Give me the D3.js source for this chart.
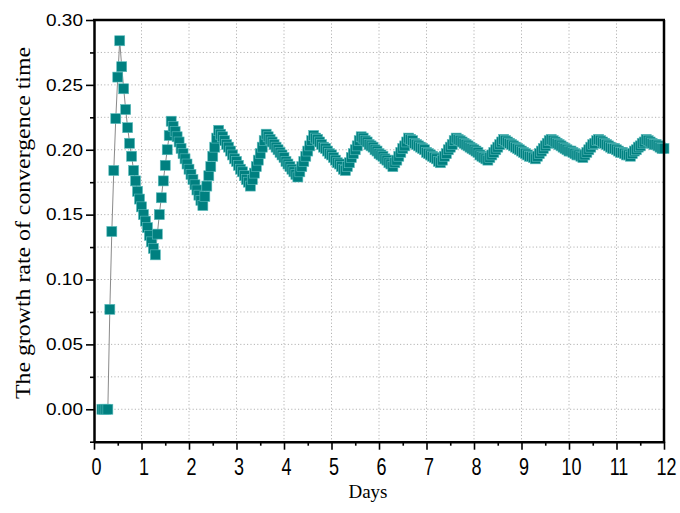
<!DOCTYPE html>
<html>
<head>
<meta charset="utf-8">
<script src="https://cdn.jsdelivr.net/npm/d3@7"></script>
<style>
  body { margin: 0; background: #fff; }
  svg { display: block; }
</style>
</head>
<body>
<div id="chart"></div>
<script>
// Datos: una muestra por hora, la primera a la hora 4
const startHour = 4;
const hoursPerDay = 24;

const rate = [
  // dia 0
  0.000, 0.000, 0.000, 0.000, 0.077, 0.137, 0.184, 0.224, 0.256, 0.284,
  0.264, 0.247, 0.231, 0.217, 0.205, 0.195, 0.184, 0.176,
  0.168, 0.162, 0.156, 0.150, 0.145, 0.140, 0.134, 0.129, 0.124, 0.119,
  // dia 1
  0.135, 0.150, 0.163, 0.176, 0.188, 0.200, 0.211, 0.222,
  0.218, 0.214, 0.210, 0.206, 0.201, 0.197, 0.193, 0.189,
  0.185, 0.181, 0.177, 0.173, 0.169, 0.165, 0.161, 0.157,
  // dia 2
  0.164, 0.172, 0.180, 0.187, 0.195, 0.202, 0.209, 0.215,
  0.212, 0.210, 0.207, 0.204, 0.202, 0.199, 0.196, 0.193,
  0.191, 0.188, 0.185, 0.183, 0.180, 0.177, 0.175, 0.172,
  // dia 3
  0.177, 0.182, 0.187, 0.192, 0.197, 0.202, 0.207, 0.212,
  0.210, 0.208, 0.206, 0.204, 0.202, 0.200, 0.198, 0.196,
  0.194, 0.191, 0.189, 0.187, 0.185, 0.183, 0.181, 0.179,
  // dia 4
  0.183, 0.187, 0.191, 0.195, 0.199, 0.203, 0.207, 0.211,
  0.209, 0.208, 0.206, 0.204, 0.202, 0.201, 0.199, 0.197,
  0.196, 0.194, 0.192, 0.190, 0.189, 0.187, 0.185, 0.184,
  // dia 5
  0.187, 0.190, 0.194, 0.197, 0.200, 0.203, 0.207, 0.210,
  0.209, 0.207, 0.206, 0.204, 0.203, 0.202, 0.200, 0.199,
  0.197, 0.196, 0.195, 0.193, 0.192, 0.190, 0.189, 0.187,
  // dia 6
  0.190, 0.192, 0.195, 0.198, 0.201, 0.203, 0.206, 0.209,
  0.208, 0.207, 0.205, 0.204, 0.203, 0.202, 0.201, 0.200,
  0.198, 0.197, 0.196, 0.195, 0.194, 0.193, 0.191, 0.190,
  // dia 7
  0.192, 0.195, 0.197, 0.200, 0.202, 0.204, 0.207, 0.209,
  0.208, 0.207, 0.206, 0.205, 0.204, 0.203, 0.202, 0.201,
  0.200, 0.199, 0.198, 0.196, 0.195, 0.194, 0.193, 0.192,
  // dia 8
  0.194, 0.196, 0.198, 0.200, 0.202, 0.204, 0.206, 0.208,
  0.207, 0.206, 0.205, 0.204, 0.203, 0.202, 0.201, 0.200,
  0.199, 0.198, 0.197, 0.196, 0.195, 0.195, 0.194, 0.193,
  // dia 9
  0.195, 0.197, 0.199, 0.201, 0.203, 0.205, 0.207, 0.208,
  0.207, 0.206, 0.205, 0.204, 0.203, 0.202, 0.201, 0.200,
  0.199, 0.199, 0.198, 0.197, 0.196, 0.196, 0.195, 0.194,
  // dia 10
  0.196, 0.198, 0.200, 0.202, 0.204, 0.205, 0.207, 0.208,
  0.207, 0.206, 0.205, 0.204, 0.203, 0.202, 0.201, 0.201,
  0.200, 0.199, 0.198, 0.198, 0.197, 0.196, 0.196, 0.195,
  // dia 11
  0.197, 0.199, 0.200, 0.202, 0.203, 0.205, 0.206, 0.208,
  0.207, 0.206, 0.205, 0.204, 0.204, 0.203, 0.202, 0.201, 0.201
];

const xTicks = [0, 1, 2, 3, 4, 5, 6, 7, 8, 9, 10, 11, 12];
const xMinorTicks = [0.5, 1.5, 2.5, 3.5, 4.5, 5.5, 6.5, 7.5, 8.5, 9.5, 10.5, 11.5];
const yTicks = [0.00, 0.05, 0.10, 0.15, 0.20, 0.25, 0.30];
const yMinorTicks = [-0.025, 0.025, 0.075, 0.125, 0.175, 0.225, 0.275];

const xLabel = "Days";
const yLabel = "The growth rate of convergence time";

// Dimensiones
const width = 680;
const height = 513;
const plotL = 94, plotR = 664, plotT = 20, plotB = 441.7;

const points = rate.map((v, i) => ({ day: (startHour + i) / hoursPerDay, v: v }));

const x = d3.scaleLinear().domain([0, 12]).range([plotL, plotR]);
const y = d3.scaleLinear().domain([-0.025, 0.30]).range([plotB, plotT]);

const svg = d3.select("#chart")
    .append("svg")
    .attr("width", width)
    .attr("height", height);

// Rejilla punteada
const grid = svg.append("g").attr("stroke", "#b4b4b4").attr("stroke-width", 1)
    .attr("stroke-dasharray", "1.2,2.2");

grid.selectAll("line.h")
    .data(yTicks.concat(yMinorTicks).filter(d => d > -0.02 && d < 0.299))
    .enter().append("line")
    .attr("class", "h")
    .attr("x1", plotL).attr("x2", plotR)
    .attr("y1", d => y(d)).attr("y2", d => y(d));

grid.selectAll("line.v")
    .data(xTicks.filter(d => d > 0 && d < 12))
    .enter().append("line")
    .attr("class", "v")
    .attr("y1", plotT).attr("y2", plotB)
    .attr("x1", d => x(d)).attr("x2", d => x(d));

// Linea gris que une los puntos
const line = d3.line().x(d => x(d.day)).y(d => y(d.v));
svg.append("path")
    .datum(points)
    .attr("d", line)
    .attr("fill", "none")
    .attr("stroke", "#8a8a8a")
    .attr("stroke-width", 1);

// Cuadrados
const sq = 10;
svg.append("g").selectAll("rect")
    .data(points)
    .enter().append("rect")
    .attr("x", d => x(d.day) - sq / 2)
    .attr("y", d => y(d.v) - sq / 2)
    .attr("width", sq)
    .attr("height", sq)
    .attr("fill", "#008080")
    .attr("stroke", "#5cbcbc")
    .attr("stroke-width", 0.6);

// Ejes
const axisW = 2.5;

const yAxis = svg.append("g")
    .attr("transform", `translate(${plotL},0)`)
    .call(d3.axisLeft(y).tickValues(yTicks).tickFormat(d3.format(".2f")).tickSize(8).tickSizeOuter(0));
yAxis.selectAll("line").attr("stroke-width", 1.6);
yAxis.select(".domain").attr("stroke-width", axisW);
yAxis.selectAll("text")
    .attr("x", -11)
    .attr("font-family", "Liberation Sans, Arial, sans-serif")
    .attr("font-size", 16.5)
    .attr("textLength", 37)
    .attr("lengthAdjust", "spacingAndGlyphs")
    .attr("fill", "#000");

svg.append("g")
    .attr("transform", `translate(${plotL},0)`)
    .call(d3.axisLeft(y).tickValues(yMinorTicks).tickFormat("").tickSize(4).tickSizeOuter(0))
    .call(g => g.select(".domain").remove())
    .selectAll("line").attr("stroke-width", 1.6);

const xAxis = svg.append("g")
    .attr("transform", `translate(0,${plotB})`)
    .call(d3.axisBottom(x).tickValues(xTicks).tickFormat(d3.format("d")).tickSize(8).tickSizeOuter(0));
xAxis.selectAll("line").attr("stroke-width", 1.6);
xAxis.select(".domain").attr("stroke-width", axisW);
xAxis.selectAll("text")
    .attr("y", 0)
    .attr("dy", 0)
    .attr("transform", "translate(2,33) scale(1,1.35)")
    .attr("font-family", "Liberation Sans, Arial, sans-serif")
    .attr("font-size", 18)
    .attr("fill", "#000");

svg.append("g")
    .attr("transform", `translate(0,${plotB})`)
    .call(d3.axisBottom(x).tickValues(xMinorTicks).tickFormat("").tickSize(4).tickSizeOuter(0))
    .call(g => g.select(".domain").remove())
    .selectAll("line").attr("stroke-width", 1.6);

// Marco superior y derecho
svg.append("line")
    .attr("x1", plotL - 1).attr("x2", plotR + 1)
    .attr("y1", plotT).attr("y2", plotT)
    .attr("stroke", "#000").attr("stroke-width", axisW);
svg.append("line")
    .attr("x1", plotR).attr("x2", plotR)
    .attr("y1", plotT).attr("y2", plotB + 1)
    .attr("stroke", "#000").attr("stroke-width", axisW);

// Titulos de los ejes
svg.append("text")
    .attr("x", 368)
    .attr("y", 498)
    .attr("text-anchor", "middle")
    .attr("font-family", "Liberation Serif, Times New Roman, serif")
    .attr("font-size", 19)
    .text(xLabel);

svg.append("text")
    .attr("transform", "translate(30,223) rotate(-90)")
    .attr("text-anchor", "middle")
    .attr("font-family", "Liberation Serif, Times New Roman, serif")
    .attr("font-size", 21)
    .attr("textLength", 352)
    .attr("lengthAdjust", "spacingAndGlyphs")
    .text(yLabel);
</script>
</body>
</html>
